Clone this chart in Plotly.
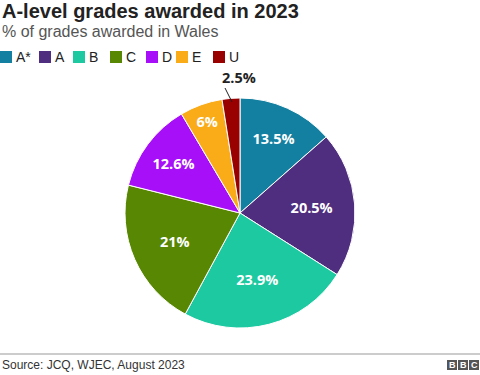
import plotly.graph_objects as go

grades = ["A*", "A", "B", "C", "D", "E", "U"]
values = [13.5, 20.5, 23.9, 21.0, 12.6, 6.0, 2.5]
labels_txt = ["13.5%", "20.5%", "23.9%", "21%", "12.6%", "6%", "2.5%"]
colors = ["#1380A1", "#4F2D7F", "#1DC9A0", "#588704", "#A70FF9", "#FAAB18", "#990000"]

# layout (pixel positions of custom legend entries)
legend_x = [0, 39, 73, 110, 146, 176, 213]

W, H = 480, 375
CX, CY, R = 240, 213, 115


def py(y):
    return 1 - y / H


fig = go.Figure()
fig.add_trace(go.Pie(
    labels=grades, values=values, text=labels_txt[:-1] + [""], textinfo="text",
    sort=False, direction="clockwise", rotation=0,
    marker=dict(colors=colors, line=dict(color="white", width=1)),
    textposition=["inside"] * 6 + ["none"],
    insidetextorientation="horizontal",
    insidetextfont=dict(color="white", size=14.5, family="Open Sans"),
    texttemplate="<b>%{text}</b>",
    hoverinfo="label+percent",
    showlegend=False,
    domain=dict(x=[(CX - R) / W, (CX + R) / W], y=[py(CY + R), py(CY - R)]),
))

fig.update_layout(
    width=W, height=H,
    margin=dict(l=0, r=0, t=0, b=0, autoexpand=False),
    paper_bgcolor="white", plot_bgcolor="white",
    showlegend=False,
    font=dict(family="Liberation Sans, Arial"),
)

# titles
fig.add_annotation(text="<b>A-level grades awarded in 2023</b>", x=0, y=py(11),
                   xref="paper", yref="paper", showarrow=False, xanchor="left", yanchor="middle",
                   font=dict(size=20, color="#222222", family="Liberation Sans, Arial"))
fig.add_annotation(text="% of grades awarded in Wales", x=0, y=py(31), xref="paper", yref="paper",
                   showarrow=False, xanchor="left", yanchor="middle",
                   font=dict(size=16, color="#555555", family="Liberation Sans, Arial"))

# legend
for g, c, lx in zip(grades, colors, legend_x):
    fig.add_shape(type="rect", xref="paper", yref="paper",
                  x0=lx / W, x1=(lx + 12) / W, y0=py(63), y1=py(51),
                  fillcolor=c, line=dict(width=0))
    fig.add_annotation(text=g, x=(lx + 14) / W, y=py(57), xref="paper", yref="paper",
                       showarrow=False, xanchor="left", yanchor="middle",
                       font=dict(size=14, color="#222222", family="Liberation Sans, Arial"))

# label of the small slice with leader line
fig.add_annotation(text="<b>%s</b>" % labels_txt[-1], x=239 / W, y=py(78), xref="paper", yref="paper",
                   showarrow=False, xanchor="center", yanchor="middle",
                   font=dict(size=14.5, color="#222222", family="Open Sans"))
fig.add_shape(type="line", xref="paper", yref="paper",
              x0=225 / W, y0=py(88), x1=232 / W, y1=py(102),
              line=dict(color="#222222", width=1))

# footer
fig.add_annotation(text="Source: JCQ, WJEC, August 2023", x=0, y=py(365), xref="paper", yref="paper",
                   showarrow=False, xanchor="left", yanchor="middle",
                   font=dict(size=12, color="#333333", family="Liberation Sans, Arial"))
fig.add_shape(type="line", xref="paper", yref="paper", x0=0, x1=1, y0=py(354), y1=py(354),
              line=dict(color="#999999", width=1))
for i, ch in enumerate("BBC"):
    x0 = 447 + i * 11
    fig.add_shape(type="rect", xref="paper", yref="paper",
                  x0=x0 / W, x1=(x0 + 10) / W, y0=py(370), y1=py(360),
                  fillcolor="#555555", line=dict(width=0))
    fig.add_annotation(text="<b>%s</b>" % ch, x=(x0 + 5) / W, y=py(365),
                       xref="paper", yref="paper", showarrow=False, xanchor="center", yanchor="middle",
                       font=dict(size=9, color="white", family="Liberation Sans, Arial"))

fig.write_html("out.html", config={"displayModeBar": False},
               post_script="document.body.style.margin='0';document.body.style.overflow='hidden';")
